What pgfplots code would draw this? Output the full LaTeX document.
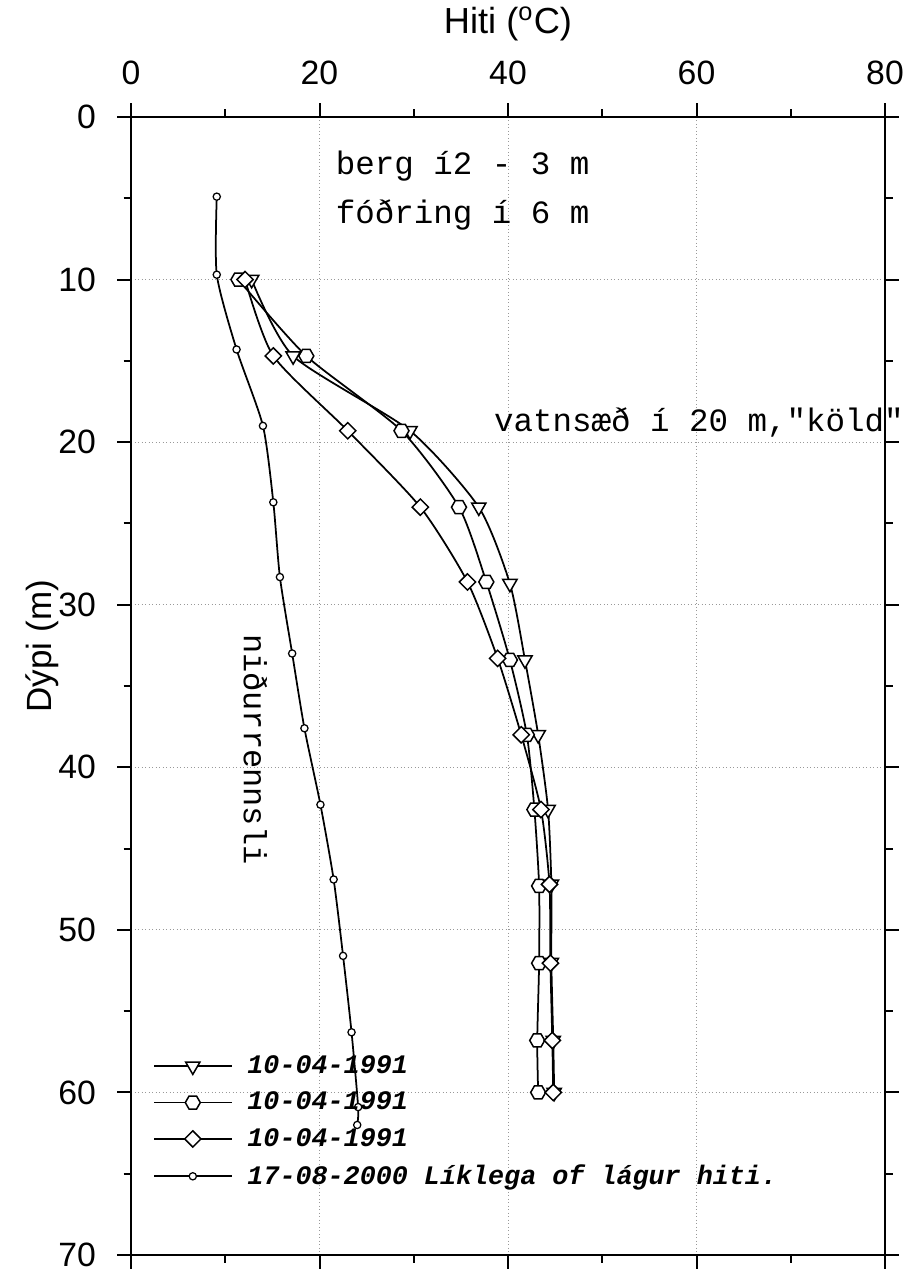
\documentclass[border=0pt]{standalone}
\usepackage{fontspec}
\setmainfont{Liberation Sans}
\newfontfamily\mono{Liberation Mono}
\usepackage{pgfplots}
\pgfplotsset{compat=1.18}

\pgfdeclareplotmark{hexagon}{%
  \pgfpathmoveto{\pgfqpointpolar{0}{\pgfplotmarksize}}%
  \pgfpathlineto{\pgfqpointpolar{60}{\pgfplotmarksize}}%
  \pgfpathlineto{\pgfqpointpolar{120}{\pgfplotmarksize}}%
  \pgfpathlineto{\pgfqpointpolar{180}{\pgfplotmarksize}}%
  \pgfpathlineto{\pgfqpointpolar{240}{\pgfplotmarksize}}%
  \pgfpathlineto{\pgfqpointpolar{300}{\pgfplotmarksize}}%
  \pgfpathclose
  \pgfusepathqfillstroke
}

\begin{document}
\begin{tikzpicture}
\begin{axis}[
  scale only axis, width=301.6pt, height=455.2pt,
  xmin=0, xmax=80, ymin=0, ymax=70, y dir=reverse,
  xtick={0,20,40,60,80}, minor xtick={10,30,50,70},
  ytick={0,10,...,70}, minor ytick={5,15,...,65},
  xticklabel pos=top,
  tick align=outside,
  major tick length=5.5pt, minor tick length=3pt,
  grid=major,
  major grid style={densely dotted, gray!80, line width=0.4pt},
  axis line style={line width=0.8pt},
  every tick/.style={black, line width=0.8pt},
  /pgf/number format/assume math mode=true,
  ticklabel style={font=\fontsize{13.5}{14}\selectfont},
  yticklabel style={xshift=-5pt},
  xticklabel style={yshift=4pt},
  xlabel={Hiti (\textsuperscript{o}C)},
  xlabel style={at={(axis description cs:0.5,1)}, anchor=base, yshift=33.5pt, font=\fontsize{14.5}{15}\selectfont},
  ylabel={Dýpi (m)},
  ylabel style={at={(axis description cs:-0.118,0.535)}, anchor=center, font=\fontsize{14}{15}\selectfont},
  clip=false,
  legend style={draw=none, fill=none, at={(axis cs:2.3,61.8)}, anchor=west, inner sep=0pt,
    font=\mono\bfseries\itshape\fontsize{10.7}{12}\selectfont, row sep=1.9pt, cells={anchor=west}},
  legend image code/.code={\draw[mark repeat=2, mark phase=2, #1] plot coordinates {(0pt,0pt) (15.5pt,0pt) (31pt,0pt)}; \path (35pt,0pt);},
  every axis plot/.append style={line width=0.7pt, black},
]
\addplot[smooth, tension=0.4, mark=triangle*, mark size=3.3pt, mark options={rotate=180, fill=white, line width=0.6pt}]
coordinates {(12.8,10.0) (17.2,14.7) (29.6,19.3) (36.9,24.0) (40.2,28.7) (41.8,33.4) (43.2,38.0) (44.25,42.6) (44.6,47.2) (44.6,52.0) (44.8,56.8) (44.9,60.0)};
\addlegendentry{10-04-1991}
\addplot[smooth, tension=0.4, mark=hexagon, mark size=3.0pt, mark options={fill=white, line width=0.6pt}]
coordinates {(11.4,10.0) (18.6,14.7) (28.7,19.3) (34.8,24.0) (37.7,28.6) (40.2,33.4) (42.0,38.0) (42.8,42.6) (43.3,47.3) (43.3,52.05) (43.1,56.8) (43.2,60.0)};
\addlegendentry{10-04-1991}
\addplot[smooth, tension=0.4, mark=square*, mark size=2.3pt, mark options={rotate=45, fill=white, line width=0.6pt}]
coordinates {(12.1,10.0) (15.1,14.7) (23.0,19.3) (30.7,24.0) (35.7,28.6) (38.9,33.3) (41.4,38.0) (43.5,42.6) (44.4,47.2) (44.5,52.05) (44.7,56.8) (44.8,60.0)};
\addlegendentry{10-04-1991}
\addplot[smooth, tension=0.4, mark=*, mark size=1.45pt, mark options={fill=white, line width=0.5pt}]
coordinates {(9.1,4.9) (9.1,9.7) (11.2,14.3) (14.0,19.0) (15.1,23.7) (15.8,28.3) (17.1,33.0) (18.4,37.6) (20.1,42.3) (21.5,46.9) (22.5,51.6) (23.4,56.3) (24.1,60.9) (24.0,62.0)};
\addlegendentry{17-08-2000 Líklega of lágur hiti.}

\node[anchor=west, font=\mono\fontsize{13}{13}\selectfont] at (axis cs:20.8,3.0) {berg í2 - 3 m};
\node[anchor=west, font=\mono\fontsize{13}{13}\selectfont] at (axis cs:20.8,6.0) {fóðring í 6 m};
\node[anchor=west, font=\mono\fontsize{13}{13}\selectfont] at (axis cs:37.6,18.8) {vatnsæð í 20 m,"köld"};
\node[rotate=-90, font=\mono\fontsize{12.8}{13}\selectfont] at (axis cs:13.2,38.9) {niðurrennsli};
\end{axis}
\pgfresetboundingbox
\path ([xshift=-52.4pt,yshift=-7.6pt]current axis.south west) rectangle ([xshift=9.2pt,yshift=46.8pt]current axis.north east);
\end{tikzpicture}
\end{document}
